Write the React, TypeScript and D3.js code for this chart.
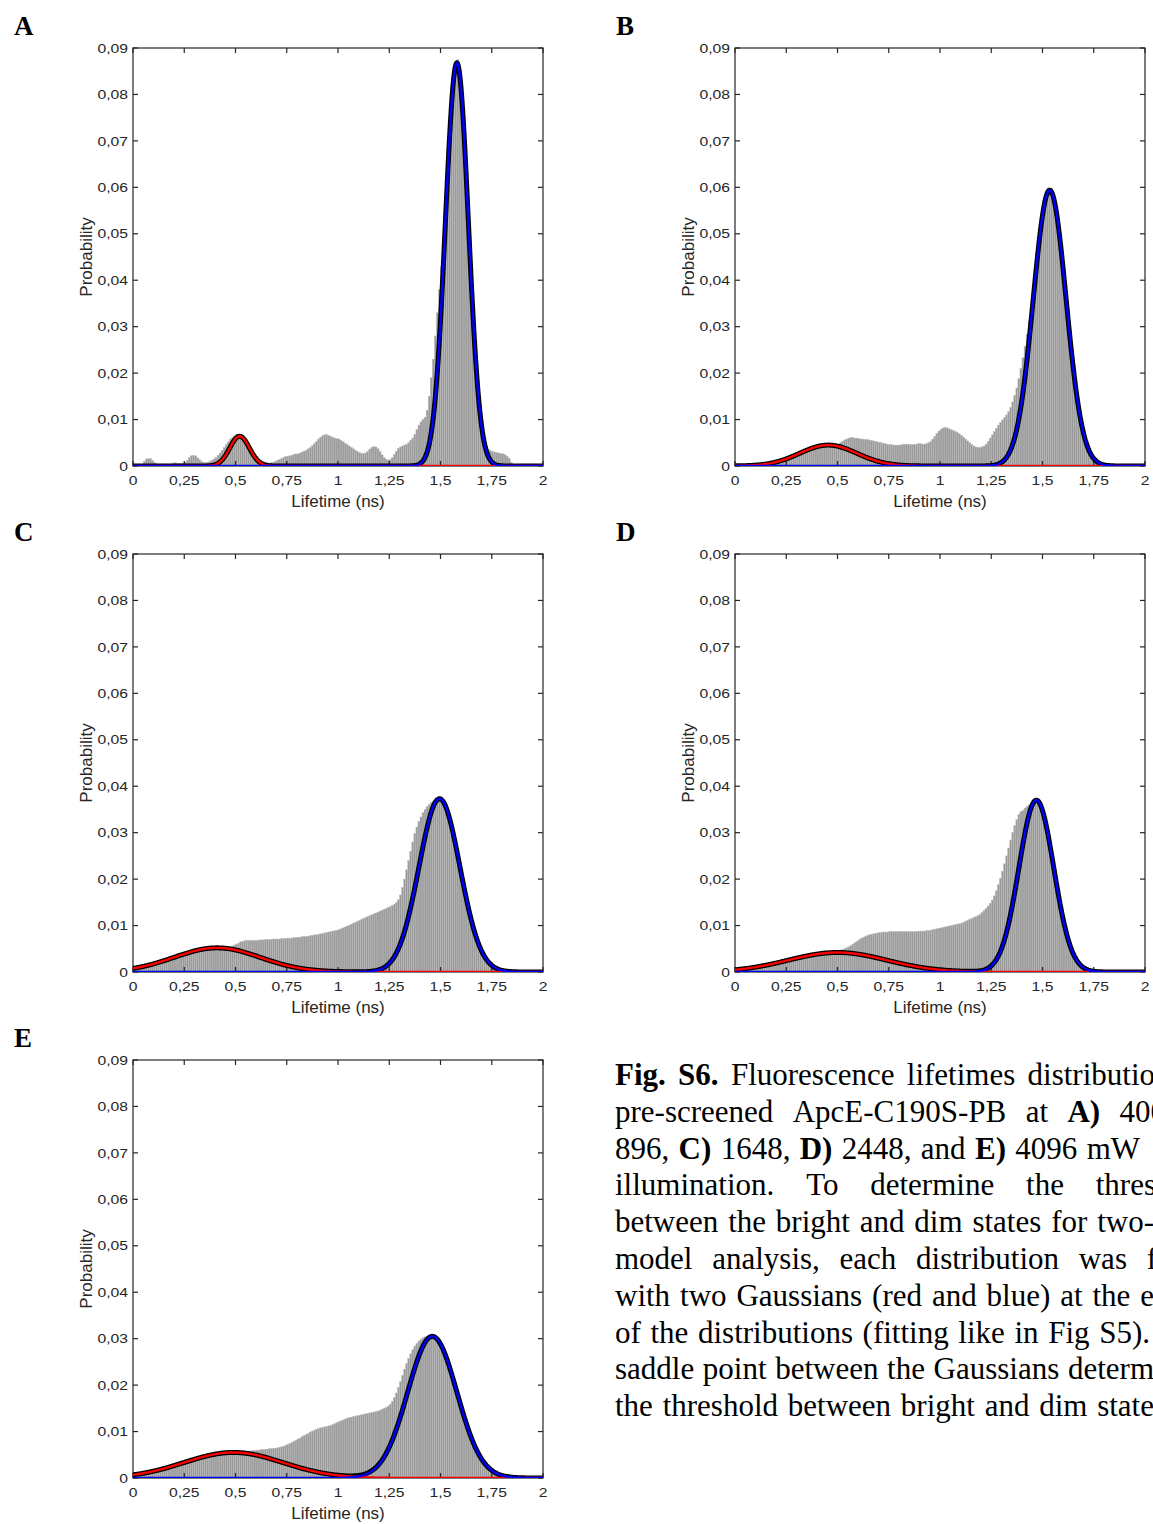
import React, { useMemo } from 'react';
import * as d3 from 'd3';

// ---------- data ----------
const binWidth = 0.01; // ns; bin i covers [0.01 i, 0.01 i + 0.01]

const histA = [
  0, 0, 0, 0, 0.0004, 0.001, 0.0015, 0.0016, 0.0016, 0.0012,
  0.0008, 0.0005, 0.0003, 0.0002, 0.0002, 0.0002, 0.0002, 0.0003, 0.0004, 0.0006,
  0.0007, 0.0006, 0.0005, 0.0005, 0.0006, 0.0008, 0.0012, 0.0018, 0.0022, 0.0023,
  0.0022, 0.0018, 0.0014, 0.001, 0.0008, 0.0008, 0.0008, 0.001, 0.0012, 0.0015,
  0.0018, 0.0023, 0.0028, 0.0034, 0.004, 0.0046, 0.0052, 0.0058, 0.0062, 0.0065,
  0.0067, 0.0067, 0.0066, 0.0062, 0.0058, 0.0052, 0.0045, 0.0038, 0.0032, 0.0026,
  0.002, 0.0015, 0.0012, 0.001, 0.0008, 0.0007, 0.0006, 0.0007, 0.0008, 0.001,
  0.0012, 0.0014, 0.0016, 0.0018, 0.002, 0.0021, 0.0022, 0.0023, 0.0025, 0.0026,
  0.0026, 0.0028, 0.003, 0.0032, 0.0034, 0.0037, 0.004, 0.0044, 0.0048, 0.0053,
  0.0058, 0.0062, 0.0065, 0.0067, 0.0068, 0.0066, 0.0064, 0.0062, 0.006, 0.0059,
  0.0058, 0.0055, 0.0052, 0.0049, 0.0046, 0.0043, 0.004, 0.0037, 0.0034, 0.0031,
  0.0029, 0.0027, 0.0027, 0.0028, 0.0031, 0.0036, 0.004, 0.0042, 0.0041, 0.0037,
  0.0031, 0.0024, 0.0018, 0.0014, 0.0013, 0.0014, 0.0018, 0.0025, 0.0032, 0.0038,
  0.0041, 0.0043, 0.0045, 0.0047, 0.005, 0.0055, 0.006, 0.0068, 0.0078, 0.0088,
  0.0095, 0.01, 0.0105, 0.012, 0.015, 0.019, 0.023, 0.028, 0.033, 0.038,
  0.043, 0.048, 0.0545, 0.063, 0.0715, 0.079, 0.084, 0.087, 0.0875, 0.084,
  0.079, 0.0715, 0.063, 0.054, 0.045, 0.036, 0.028, 0.021, 0.0155, 0.011,
  0.0078, 0.0055, 0.0042, 0.0036, 0.0033, 0.0031, 0.003, 0.0029, 0.0028, 0.0027,
  0.0026, 0.0024, 0.0021, 0.0016, 0.0008, 0, 0, 0, 0, 0,
  0, 0, 0, 0, 0, 0, 0, 0, 0, 0,
];

const histB = [
  0, 0, 0, 0, 0, 0.0002, 0.0003, 0.0003, 0.0004, 0.0004,
  0.0003, 0.0003, 0.0004, 0.0004, 0.0005, 0.0005, 0.0006, 0.0006, 0.0007, 0.0007,
  0.0008, 0.0009, 0.001, 0.0011, 0.0012, 0.0014, 0.0016, 0.0018, 0.002, 0.0022,
  0.0024, 0.0026, 0.0029, 0.0032, 0.0035, 0.0038, 0.004, 0.0042, 0.0043, 0.0044,
  0.0044, 0.0045, 0.0045, 0.0045, 0.0045, 0.0045, 0.0045, 0.0045, 0.0045, 0.0046,
  0.0047, 0.005, 0.0053, 0.0056, 0.0058, 0.006, 0.0061, 0.0061, 0.006, 0.006,
  0.0059, 0.0058, 0.0058, 0.0057, 0.0057, 0.0056, 0.0055, 0.0054, 0.0053, 0.0052,
  0.0051, 0.005, 0.0049, 0.0048, 0.0047, 0.0046, 0.0046, 0.0045, 0.0045, 0.0045,
  0.0045, 0.0046, 0.0047, 0.0047, 0.0047, 0.0046, 0.0046, 0.0047, 0.0047, 0.0048,
  0.0048, 0.0047, 0.0047, 0.0048, 0.005, 0.0053, 0.0058, 0.0064, 0.007, 0.0075,
  0.0079, 0.0082, 0.0083, 0.0082, 0.008, 0.0078, 0.0076, 0.0074, 0.0072, 0.0069,
  0.0066, 0.0062, 0.0058, 0.0054, 0.005, 0.0046, 0.0043, 0.0041, 0.004, 0.004,
  0.0041, 0.0043, 0.0047, 0.0053, 0.006, 0.0067, 0.0074, 0.0081, 0.0088, 0.0094,
  0.0099, 0.0104, 0.011, 0.0117, 0.0126, 0.0138, 0.0152, 0.0168, 0.0188, 0.021,
  0.0233, 0.0258, 0.0284, 0.0312, 0.0343, 0.0377, 0.0412, 0.0452, 0.049, 0.0525,
  0.0555, 0.0577, 0.059, 0.0595, 0.0589, 0.0576, 0.0554, 0.0524, 0.0489, 0.0448,
  0.0405, 0.036, 0.0316, 0.0272, 0.0231, 0.0193, 0.0159, 0.0129, 0.0102, 0.008,
  0.0062, 0.0047, 0.0035, 0.0026, 0.0019, 0.0014, 0.001, 0.0007, 0.0005, 0.0003,
  0.0002, 0, 0, 0, 0, 0, 0, 0, 0, 0,
  0, 0, 0, 0, 0, 0, 0, 0, 0, 0,
];

const histC = [
  0.0008, 0.0009, 0.0009, 0.001, 0.0011, 0.0012, 0.0013, 0.0014, 0.0015, 0.0016,
  0.0018, 0.0019, 0.002, 0.0022, 0.0023, 0.0025, 0.0026, 0.0028, 0.003, 0.0031,
  0.0033, 0.0034, 0.0036, 0.0038, 0.0039, 0.0041, 0.0042, 0.0044, 0.0045, 0.0046,
  0.0047, 0.0048, 0.0049, 0.005, 0.0051, 0.0051, 0.0052, 0.0052, 0.0052, 0.0052,
  0.0052, 0.0052, 0.0052, 0.0052, 0.0053, 0.0053, 0.0054, 0.0055, 0.0056, 0.0058,
  0.006, 0.0062, 0.0065, 0.0066, 0.0067, 0.0068, 0.0068, 0.0068, 0.0068, 0.0068,
  0.0068, 0.0069, 0.0069, 0.0069, 0.007, 0.007, 0.007, 0.007, 0.0071, 0.0071,
  0.0071, 0.0071, 0.0072, 0.0072, 0.0072, 0.0073, 0.0073, 0.0073, 0.0074, 0.0074,
  0.0075, 0.0075, 0.0076, 0.0076, 0.0077, 0.0077, 0.0078, 0.0079, 0.008, 0.008,
  0.0081, 0.0082, 0.0083, 0.0084, 0.0085, 0.0086, 0.0087, 0.0088, 0.0089, 0.009,
  0.0091, 0.0093, 0.0095, 0.0097, 0.0099, 0.0101, 0.0103, 0.0105, 0.0107, 0.0109,
  0.0111, 0.0113, 0.0115, 0.0117, 0.0119, 0.0121, 0.0123, 0.0125, 0.0127, 0.0129,
  0.0131, 0.0133, 0.0135, 0.0137, 0.0139, 0.0141, 0.0143, 0.0146, 0.015, 0.0156,
  0.0166, 0.0182, 0.02, 0.022, 0.024, 0.026, 0.028, 0.0298, 0.0312, 0.0324,
  0.0334, 0.0343, 0.035, 0.0356, 0.0361, 0.0365, 0.0368, 0.037, 0.0372, 0.0373,
  0.0371, 0.0366, 0.0357, 0.0344, 0.0329, 0.0312, 0.0292, 0.0271, 0.0249, 0.0226,
  0.0204, 0.0182, 0.016, 0.014, 0.0121, 0.0104, 0.0088, 0.0074, 0.0061, 0.005,
  0.0041, 0.0033, 0.0026, 0.0021, 0.0016, 0.0013, 0.001, 0.0007, 0.0006, 0.0004,
  0.0003, 0.0002, 0.0002, 0.0001, 0.0001, 0, 0, 0, 0, 0,
  0, 0, 0, 0, 0, 0, 0, 0, 0, 0,
];

const histD = [
  0.0005, 0.0005, 0.0006, 0.0006, 0.0007, 0.0007, 0.0008, 0.0008, 0.0009, 0.001,
  0.001, 0.0011, 0.0012, 0.0013, 0.0014, 0.0015, 0.0016, 0.0017, 0.0018, 0.0019,
  0.002, 0.0021, 0.0022, 0.0023, 0.0024, 0.0025, 0.0026, 0.0027, 0.0028, 0.0029,
  0.003, 0.0031, 0.0032, 0.0033, 0.0034, 0.0035, 0.0036, 0.0037, 0.0038, 0.0039,
  0.004, 0.004, 0.0041, 0.0041, 0.0042, 0.0042, 0.0043, 0.0043, 0.0044, 0.0045,
  0.0046, 0.0047, 0.0048, 0.005, 0.0052, 0.0054, 0.0057, 0.006, 0.0063, 0.0066,
  0.0069, 0.0072, 0.0074, 0.0076, 0.0078, 0.008, 0.0081, 0.0082, 0.0083, 0.0084,
  0.0085, 0.0085, 0.0086, 0.0086, 0.0086, 0.0087, 0.0087, 0.0087, 0.0087, 0.0087,
  0.0087, 0.0087, 0.0087, 0.0087, 0.0087, 0.0087, 0.0087, 0.0087, 0.0087, 0.0088,
  0.0088, 0.0088, 0.0088, 0.0089, 0.0089, 0.009, 0.0091, 0.0092, 0.0093, 0.0094,
  0.0095, 0.0096, 0.0097, 0.0098, 0.0099, 0.01, 0.0101, 0.0102, 0.0103, 0.0104,
  0.0105, 0.0107, 0.0109, 0.0111, 0.0113, 0.0115, 0.0117, 0.0119, 0.0121, 0.0124,
  0.0128, 0.0132, 0.0137, 0.0142, 0.0148, 0.0155, 0.0164, 0.0175, 0.0188, 0.0202,
  0.0217, 0.0233, 0.025, 0.0267, 0.0284, 0.03, 0.0315, 0.0328, 0.0339, 0.0345,
  0.0348, 0.0353, 0.0357, 0.036, 0.0363, 0.0366, 0.0369, 0.0369, 0.0364, 0.0354,
  0.0342, 0.0326, 0.0306, 0.0284, 0.0262, 0.0238, 0.0213, 0.0188, 0.0163, 0.014,
  0.0118, 0.0098, 0.008, 0.0065, 0.0052, 0.0041, 0.0032, 0.0024, 0.0018, 0.0013,
  0.001, 0.0007, 0.0005, 0.0004, 0.0003, 0.0002, 0.0001, 0, 0, 0,
  0, 0, 0, 0, 0, 0, 0, 0, 0, 0,
  0, 0, 0, 0, 0, 0, 0, 0, 0, 0,
];

const histE = [
  0.0008, 0.0009, 0.001, 0.0011, 0.0012, 0.0013, 0.0014, 0.0015, 0.0016, 0.0017,
  0.0018, 0.0019, 0.002, 0.0022, 0.0023, 0.0025, 0.0026, 0.0028, 0.0029, 0.0031,
  0.0032, 0.0034, 0.0035, 0.0037, 0.0038, 0.004, 0.0041, 0.0043, 0.0044, 0.0045,
  0.0046, 0.0047, 0.0048, 0.0049, 0.005, 0.0051, 0.0052, 0.0052, 0.0053, 0.0053,
  0.0054, 0.0054, 0.0055, 0.0055, 0.0055, 0.0055, 0.0055, 0.0055, 0.0055, 0.0055,
  0.0055, 0.0055, 0.0056, 0.0056, 0.0057, 0.0057, 0.0058, 0.0058, 0.0059, 0.0059,
  0.006, 0.006, 0.0061, 0.0061, 0.0062, 0.0062, 0.0063, 0.0063, 0.0064, 0.0064,
  0.0065, 0.0066, 0.0067, 0.0068, 0.007, 0.0072, 0.0074, 0.0076, 0.0079, 0.0081,
  0.0084, 0.0086, 0.0089, 0.0091, 0.0094, 0.0096, 0.0099, 0.0101, 0.0103, 0.0105,
  0.0106, 0.0108, 0.0109, 0.011, 0.0111, 0.0112, 0.0113, 0.0115, 0.0117, 0.0119,
  0.0121, 0.0123, 0.0125, 0.0127, 0.0129, 0.013, 0.0131, 0.0132, 0.0133, 0.0134,
  0.0135, 0.0136, 0.0137, 0.0138, 0.0139, 0.014, 0.0141, 0.0142, 0.0143, 0.0144,
  0.0146, 0.0148, 0.015, 0.0152, 0.0155, 0.0159, 0.0165, 0.0173, 0.0183, 0.0195,
  0.0208, 0.0221, 0.0234, 0.0246, 0.0257, 0.0267, 0.0276, 0.0284, 0.029, 0.0295,
  0.0299, 0.0302, 0.0304, 0.0305, 0.0306, 0.0306, 0.0305, 0.0303, 0.0298, 0.0292,
  0.0284, 0.0275, 0.0263, 0.0251, 0.0237, 0.0223, 0.0208, 0.0193, 0.0177, 0.0162,
  0.0147, 0.0132, 0.0119, 0.0105, 0.0093, 0.0081, 0.0071, 0.0061, 0.0053, 0.0045,
  0.0038, 0.0032, 0.0027, 0.0022, 0.0018, 0.0015, 0.0012, 0.001, 0.0008, 0.0006,
  0.0005, 0.0004, 0.0003, 0.0002, 0.0002, 0.0001, 0, 0, 0, 0,
  0, 0, 0, 0, 0, 0, 0, 0, 0, 0,
];

// Gaussian fits: [centre (ns), sigma (ns), amplitude]
const redFitA = [0.52, 0.048, 0.0064];
const blueFitA = [1.58, 0.056, 0.0868];
const redFitB = [0.455, 0.14, 0.0045];
const blueFitB = [1.535, 0.08, 0.0594];
const redFitC = [0.41, 0.21, 0.0052];
const blueFitC = [1.495, 0.1, 0.0373];
const redFitD = [0.5, 0.24, 0.0042];
const blueFitD = [1.47, 0.085, 0.037];
const redFitE = [0.49, 0.24, 0.0055];
const blueFitE = [1.46, 0.12, 0.0305];

const panelLabels = ['A', 'B', 'C', 'D', 'E'];

const xTicks = [0, 0.25, 0.5, 0.75, 1, 1.25, 1.5, 1.75, 2];
const xTickLabels = ['0', '0,25', '0,5', '0,75', '1', '1,25', '1,5', '1,75', '2'];
const yTicks = [0, 0.01, 0.02, 0.03, 0.04, 0.05, 0.06, 0.07, 0.08, 0.09];
const yTickLabels = ['0', '0,01', '0,02', '0,03', '0,04', '0,05', '0,06', '0,07', '0,08', '0,09'];
const xLabel = 'Lifetime (ns)';
const yLabel = 'Probability';

const captionLines = [
  '*Fig. *S6. Fluorescence lifetimes distributio',
  'pre-screened ApcE-C190S-PB at *A) 400',
  '896, *C) 1648, *D) 2448, and *E) 4096 mW',
  'illumination. To determine the thres',
  'between the bright and dim states for two-',
  'model analysis, each distribution was f',
  'with two Gaussians (red and blue) at the e',
  'of the distributions (fitting like in Fig S5).',
  'saddle point between the Gaussians determ',
  'the threshold between bright and dim state',
];
const captionEnds = [1155, 1166, 1140, 1156, 1154, 1157, 1154, 1150, 1154, 1154];

// ---------- layout ----------
const W = 1153;
const H = 1524;
const PW = 410;
const PH = 418;
const panelPos = [
  [133, 48],
  [735, 48],
  [133, 554],
  [735, 554],
  [133, 1060],
];
const AX = '#262626';
const SANS = '"Liberation Sans", Arial, Helvetica, sans-serif';
const SERIF = '"Liberation Serif", "Times New Roman", Times, serif';
const CAP_FS = 31;
const TICK_FS = 13.3;
const TICK_SX = 1.18;

const hists = [histA, histB, histC, histD, histE];
const reds = [redFitA, redFitB, redFitC, redFitD, redFitE];
const blues = [blueFitA, blueFitB, blueFitC, blueFitD, blueFitE];

function gauss(p: number[], x: number) {
  const [m, s, a] = p;
  return a * Math.exp(-((x - m) * (x - m)) / (2 * s * s));
}

function Panel({ idx }: { idx: number }) {
  const [left, top] = panelPos[idx];
  const xs = d3.scaleLinear().domain([0, 2]).range([left, left + PW]);
  const ys = d3.scaleLinear().domain([0, 0.09]).range([top + PH, top]);
  const hist = hists[idx];
  const red = reds[idx];
  const blue = blues[idx];
  const grid = d3.range(0, 2.0001, 0.004);
  const line = d3.line<number>().x((d) => xs(d));
  const redPath = line.y((d) => ys(gauss(red, d)))(grid) || '';
  const bluePath = line.y((d) => ys(gauss(blue, d)))(grid) || '';
  const sumPath = line.y((d) => ys(gauss(red, d) + gauss(blue, d)))(grid) || '';
  const clipId = `clip-${idx}`;
  const bottom = top + PH;
  const right = left + PW;
  const tl = 5;
  return (
    <g>
      <defs>
        <clipPath id={clipId}>
          <rect x={left} y={top - 10} width={PW} height={PH + 10} />
        </clipPath>
      </defs>
      <g clipPath={`url(#${clipId})`}>
        {hist.map((v, i) => {
          if (v <= 0) return null;
          const x0 = xs(i * binWidth);
          const x1 = xs((i + 1) * binWidth);
          return (
            <rect
              key={i}
              x={x0}
              y={ys(v)}
              width={x1 - x0}
              height={ys(0) - ys(v)}
              fill="#9a9a9a"
              stroke="#bcbcbc"
              strokeWidth={0.45}
            />
          );
        })}
      </g>
      <rect x={left} y={top} width={PW} height={PH} fill="none" stroke={AX} strokeWidth={1.2} />
      {xTicks.map((t, i) => (
        <g key={'xt' + i}>
          <line x1={xs(t)} x2={xs(t)} y1={bottom} y2={bottom - tl} stroke={AX} strokeWidth={1.2} />
          <line x1={xs(t)} x2={xs(t)} y1={top} y2={top + tl} stroke={AX} strokeWidth={1.2} />
          <text
            transform={`translate(${xs(t)},${bottom + 19}) scale(${TICK_SX},1)`}
            textAnchor="middle"
            fontFamily={SANS}
            fontSize={TICK_FS}
            fill={AX}
          >
            {xTickLabels[i]}
          </text>
        </g>
      ))}
      {yTicks.map((t, i) => (
        <g key={'yt' + i}>
          <line x1={left} x2={left + tl} y1={ys(t)} y2={ys(t)} stroke={AX} strokeWidth={1.2} />
          <line x1={right} x2={right - tl} y1={ys(t)} y2={ys(t)} stroke={AX} strokeWidth={1.2} />
          <text
            transform={`translate(${left - 5},${ys(t) + 4.7}) scale(${TICK_SX},1)`}
            textAnchor="end"
            fontFamily={SANS}
            fontSize={TICK_FS}
            fill={AX}
          >
            {yTickLabels[i]}
          </text>
        </g>
      ))}
      <g clipPath={`url(#${clipId})`}>
        <path d={sumPath} fill="none" stroke="#000" strokeWidth={5} strokeLinejoin="round" />
        <path d={redPath} fill="none" stroke="#ff0000" strokeWidth={2.4} strokeLinejoin="round" />
        <path d={bluePath} fill="none" stroke="#0000ff" strokeWidth={2.4} strokeLinejoin="round" />
      </g>
      <text
        x={(left + right) / 2}
        y={bottom + 41}
        textAnchor="middle"
        fontFamily={SANS}
        fontSize={17}
        fill={AX}
      >
        {xLabel}
      </text>
      <text
        transform={`translate(${left - 41},${(top + bottom) / 2}) rotate(-90)`}
        textAnchor="middle"
        fontFamily={SANS}
        fontSize={17}
        fill={AX}
      >
        {yLabel}
      </text>
      <text x={left - 119} y={top - 13} fontFamily={SERIF} fontWeight="bold" fontSize={27} fill="#000">
        {panelLabels[idx]}
      </text>
    </g>
  );
}

function Caption() {
  const layout = useMemo(() => {
    const canvas = document.createElement('canvas');
    const ctx = canvas.getContext('2d');
    const measure = (t: string, b: boolean) => {
      if (!ctx) return t.length * 13;
      ctx.font = `${b ? 'bold ' : ''}${CAP_FS}px "Liberation Serif"`;
      return ctx.measureText(t).width;
    };
    return captionLines.map((ln, li) => {
      const words = ln.split(' ').map((w) => {
        const b = w.startsWith('*');
        const t = b ? w.slice(1) : w;
        return { t, b, w: measure(t, b) };
      });
      const total = words.reduce((s, w) => s + w.w, 0);
      const gap = words.length > 1 ? (captionEnds[li] - 615 - total) / (words.length - 1) : 0;
      let x = 615;
      return words.map((w) => {
        const o = { ...w, x };
        x += w.w + gap;
        return o;
      });
    });
  }, []);
  return (
    <g>
      {layout.map((ws, li) =>
        ws.map((w, wi) => (
          <text
            key={li + '-' + wi}
            x={w.x}
            y={1085 + li * 36.8}
            fontFamily={SERIF}
            fontSize={CAP_FS}
            fontWeight={w.b ? 'bold' : 'normal'}
            fill="#000"
          >
            {w.t}
          </text>
        ))
      )}
    </g>
  );
}

export default function App() {
  return (
    <svg
      width={W}
      height={H}
      viewBox={`0 0 ${W} ${H}`}
      style={{ position: 'absolute', left: 0, top: 0, background: '#fff' }}
    >
      <rect x={0} y={0} width={W} height={H} fill="#fff" />
      {[0, 1, 2, 3, 4].map((i) => (
        <Panel key={i} idx={i} />
      ))}
      <Caption />
    </svg>
  );
}
